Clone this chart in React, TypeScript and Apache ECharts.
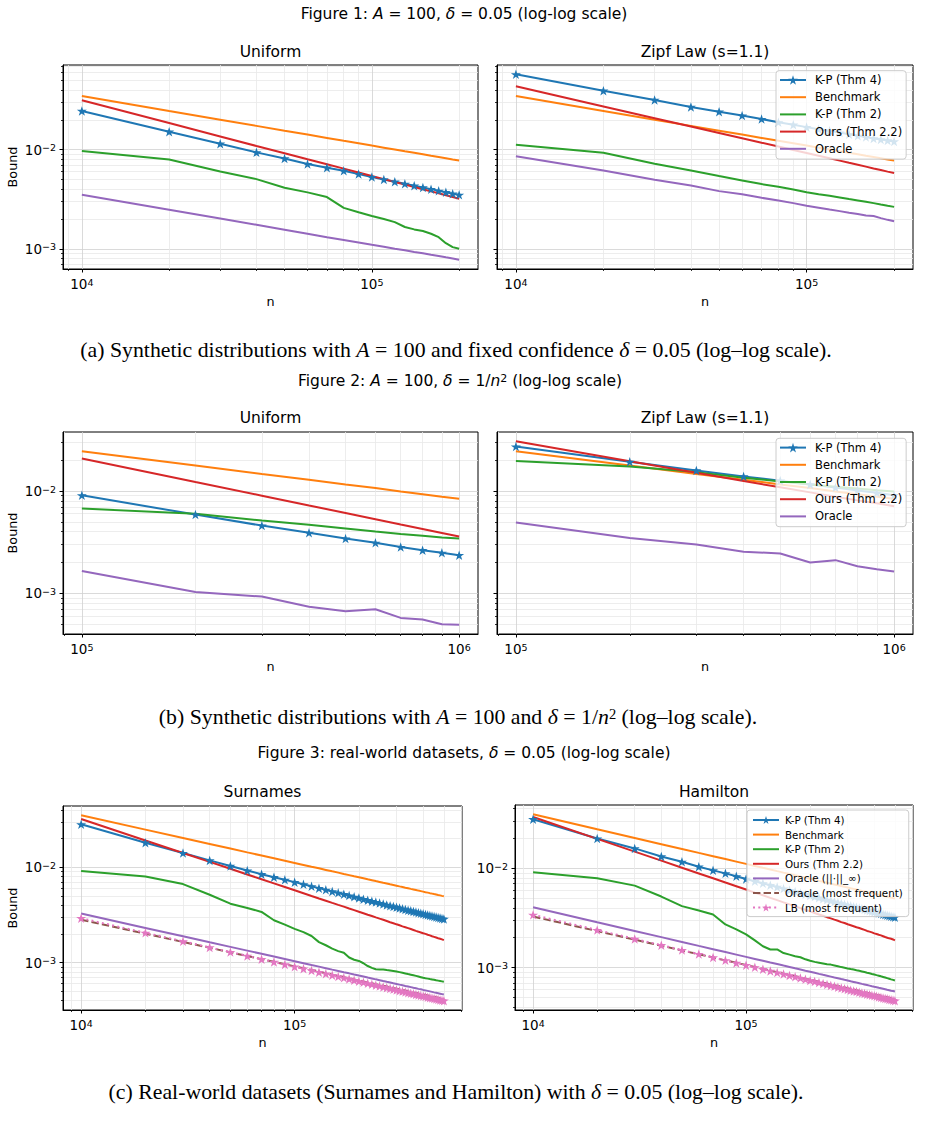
import React, { useEffect, useRef } from 'react';
import * as echarts from 'echarts';

const FONT = 'DejaVu Sans';
const SERIF = 'Liberation Serif';

const C_BLUE = '#1f77b4';
const C_ORANGE = '#ff7f0e';
const C_GREEN = '#2ca02c';
const C_RED = '#d62728';
const C_PURPLE = '#9467bd';
const C_BROWN = '#8c564b';
const C_PINK = '#e377c2';

const L_KP4 = 'K-P (Thm 4)';
const L_BENCH = 'Benchmark';
const L_KP2 = 'K-P (Thm 2)';
const L_OURS = 'Ours (Thm 2.2)';
const L_ORACLE = 'Oracle';
const L_ORACLE_INF = 'Oracle (||·||_∞)';
const L_ORACLE_MF = 'Oracle (most frequent)';
const L_LB = 'LB (most frequent)';

// ---------- Figure 1 (A = 100, delta = 0.05) ----------
const n1 = [10000, 20000, 30000, 40000, 50000, 60000, 70000, 80000, 90000, 100000,
  110000, 120000, 130000, 140000, 150000, 160000, 170000, 180000, 190000, 200000];
const f1Bench = [0.0348, 0.0246, 0.0201, 0.0174, 0.01556, 0.01421, 0.01315, 0.0123, 0.0116, 0.011,
  0.01049, 0.01005, 0.00965, 0.0093, 0.00899, 0.0087, 0.00844, 0.0082, 0.00798, 0.00778];
const f1UniKP4 = [0.0246, 0.0152, 0.0115, 0.0094, 0.00817, 0.00716, 0.00658, 0.00613, 0.00568, 0.0053,
  0.00501, 0.00475, 0.00453, 0.00433, 0.00416, 0.004, 0.00385, 0.00373, 0.0036, 0.00351];
const f1UniKP2 = [0.0097, 0.00798, 0.00604, 0.00505, 0.00413, 0.00371, 0.00333, 0.00259, 0.00234, 0.00214,
  0.002, 0.00186, 0.00166, 0.00157, 0.00151, 0.00142, 0.00131, 0.00114, 0.00104, 0.001];
const f1UniOurs = [0.0315, 0.0186, 0.0136, 0.0109, 0.0092, 0.008, 0.00714, 0.00644, 0.00589, 0.00544,
  0.00505, 0.00473, 0.00445, 0.0042, 0.00399, 0.0038, 0.00363, 0.00347, 0.00333, 0.0032];
const f1UniOracle = [0.00351, 0.00248, 0.00202, 0.00175, 0.00156, 0.00142, 0.00131, 0.00123, 0.00116, 0.0011,
  0.00105, 0.001, 0.000965, 0.00093, 0.0009, 0.00087, 0.000845, 0.00082, 0.000798, 0.000776];
const f1ZipfKP4 = [0.0577, 0.0394, 0.0318, 0.027, 0.0242, 0.0221, 0.0204, 0.0189, 0.0179, 0.0169,
  0.0161, 0.0155, 0.0149, 0.0143, 0.0138, 0.0134, 0.013, 0.0127, 0.0124, 0.0121];
const f1ZipfKP2 = [0.01124, 0.00933, 0.00723, 0.00618, 0.00542, 0.0049, 0.0045, 0.00423, 0.00397, 0.00373,
  0.00356, 0.00343, 0.0033, 0.00318, 0.00308, 0.00298, 0.00289, 0.0028, 0.00272, 0.00265];
const f1ZipfOurs = [0.0436, 0.0273, 0.0208, 0.01714, 0.01476, 0.01305, 0.01176, 0.01076, 0.00994, 0.00926,
  0.00868, 0.00819, 0.00776, 0.00738, 0.00705, 0.00675, 0.00647, 0.00623, 0.00601, 0.00581];
const f1ZipfOracle = [0.00857, 0.00618, 0.00497, 0.00436, 0.00382, 0.00356, 0.00327, 0.00308, 0.00289, 0.00272,
  0.0026, 0.00249, 0.0024, 0.00231, 0.00224, 0.00217, 0.00214, 0.00204, 0.00196, 0.0019];

// ---------- Figure 2 (A = 100, delta = 1/n^2) ----------
const n2 = [100000, 200000, 300000, 400000, 500000, 600000, 700000, 800000, 900000, 1000000];
const f2Bench = [0.0245, 0.0178, 0.0147, 0.0129, 0.0116, 0.0107, 0.0099, 0.0093, 0.0088, 0.0084];
const f2UniKP4 = [0.00908, 0.00588, 0.00459, 0.0039, 0.00343, 0.00312, 0.00283, 0.00264, 0.00249, 0.00236];
const f2UniKP2 = [0.00673, 0.00601, 0.00514, 0.00467, 0.0043, 0.00402, 0.00381, 0.00365, 0.00351, 0.00343];
const f2UniOurs = [0.0208, 0.01225, 0.009, 0.00722, 0.0061, 0.0053, 0.00471, 0.00426, 0.00389, 0.00359];
const f2UniOracle = [0.00165, 0.00103, 0.00093, 0.00074, 0.000668, 0.000698, 0.000575, 0.000554, 0.000499, 0.000492];
const f2ZipfKP4 = [0.0272, 0.0193, 0.0159, 0.0139, 0.0126, 0.0116, 0.0108, 0.0101, 0.0096, 0.0091];
const f2ZipfKP2 = [0.0196, 0.0174, 0.0153, 0.0135, 0.0124, 0.0116, 0.011, 0.0106, 0.0102, 0.0099];
const f2ZipfOurs = [0.0307, 0.0195, 0.0151, 0.0125, 0.0109, 0.0097, 0.0088, 0.0081, 0.0076, 0.0071];
const f2ZipfOracle = [0.00492, 0.00348, 0.003, 0.00255, 0.00245, 0.002, 0.00211, 0.00184, 0.00172, 0.00163];

// ---------- Figure 3 (real-world, delta = 0.05) ----------
const n3 = [10000, 20000, 30000, 40000, 50000, 60000, 70000, 80000, 90000, 100000,
  110000, 120000, 130000, 140000, 150000, 160000, 170000, 180000, 190000, 200000,
  210000, 220000, 230000, 240000, 250000, 260000, 270000, 280000, 290000, 300000,
  310000, 320000, 330000, 340000, 350000, 360000, 370000, 380000, 390000, 400000,
  410000, 420000, 430000, 440000, 450000, 460000, 470000, 480000, 490000, 500000];
const f3Bench = [0.0351, 0.02482, 0.02027, 0.01755, 0.0157, 0.01433, 0.01327, 0.01241, 0.0117, 0.0111,
  0.01058, 0.01013, 0.00974, 0.00938, 0.00906, 0.00878, 0.00851, 0.00827, 0.00805, 0.00785,
  0.00766, 0.00748, 0.00732, 0.00716, 0.00702, 0.00688, 0.00676, 0.00663, 0.00652, 0.00641,
  0.0063, 0.00621, 0.00611, 0.00602, 0.00593, 0.00585, 0.00577, 0.00569, 0.00562, 0.00555,
  0.00548, 0.00542, 0.00535, 0.00529, 0.00523, 0.00518, 0.00512, 0.00507, 0.00501, 0.00496];
const surKP4 = [0.0282, 0.0181, 0.0141, 0.0118, 0.01033, 0.00923, 0.00845, 0.00787, 0.00738, 0.00698,
  0.00662, 0.00631, 0.00604, 0.0058, 0.00558, 0.00539, 0.00521, 0.00505, 0.0049, 0.00476,
  0.00463, 0.00452, 0.00441, 0.00431, 0.00421, 0.00412, 0.00403, 0.00395, 0.00388, 0.00381,
  0.00374, 0.00367, 0.00361, 0.00355, 0.0035, 0.00344, 0.00339, 0.00334, 0.00329, 0.00325,
  0.0032, 0.00316, 0.00312, 0.00308, 0.00304, 0.00301, 0.00297, 0.00294, 0.0029, 0.00287];
const surKP2 = [0.00916, 0.008, 0.00666, 0.00515, 0.00415, 0.00374, 0.0034, 0.00278, 0.0025, 0.00226,
  0.00209, 0.0019, 0.00164, 0.00152, 0.0014, 0.00132, 0.00127, 0.00113, 0.00107, 0.00104,
  0.000984, 0.00092, 0.00088, 0.00085, 0.000848, 0.000845, 0.000835, 0.000826, 0.000816, 0.000806,
  0.000794, 0.000782, 0.00077, 0.000758, 0.000747, 0.000736, 0.000725, 0.000714, 0.000703, 0.000692,
  0.000685, 0.000679, 0.000672, 0.000666, 0.00066, 0.000653, 0.000647, 0.000641, 0.000635, 0.000629];
const surOurs = [0.0321, 0.01911, 0.01411, 0.01138, 0.00963, 0.0084, 0.00749, 0.00678, 0.00621, 0.00574,
  0.00534, 0.005, 0.00471, 0.00446, 0.00423, 0.00403, 0.00386, 0.00369, 0.00355, 0.00341,
  0.00329, 0.00318, 0.00308, 0.00298, 0.00289, 0.00281, 0.00273, 0.00265, 0.00259, 0.00252,
  0.00246, 0.0024, 0.00235, 0.0023, 0.00225, 0.0022, 0.00215, 0.00211, 0.00207, 0.00203,
  0.002, 0.00196, 0.00193, 0.00189, 0.00186, 0.00183, 0.0018, 0.00178, 0.00175, 0.00172];
const surOracleInf = [0.00327, 0.00231, 0.00189, 0.001635, 0.001462, 0.001335, 0.001236, 0.001156, 0.00109, 0.001034,
  0.000986, 0.000944, 0.000907, 0.000874, 0.000844, 0.000818, 0.000793, 0.000771, 0.00075, 0.000731,
  0.000714, 0.000697, 0.000682, 0.000667, 0.000654, 0.000641, 0.000629, 0.000618, 0.000607, 0.000597,
  0.000587, 0.000578, 0.000569, 0.000561, 0.000553, 0.000545, 0.000538, 0.00053, 0.000524, 0.000517,
  0.000511, 0.000505, 0.000499, 0.000493, 0.000487, 0.000482, 0.000477, 0.000472, 0.000467, 0.000462];
const surOracleMF = [0.00282, 0.00201, 0.001646, 0.00143, 0.001281, 0.001172, 0.001087, 0.001018, 0.000961, 0.000912,
  0.000871, 0.000834, 0.000803, 0.000774, 0.000748, 0.000725, 0.000704, 0.000684, 0.000666, 0.00065,
  0.000634, 0.00062, 0.000607, 0.000594, 0.000583, 0.000571, 0.000561, 0.000551, 0.000542, 0.000533,
  0.000524, 0.000516, 0.000509, 0.000501, 0.000494, 0.000487, 0.000481, 0.000474, 0.000468, 0.000463,
  0.000457, 0.000452, 0.000447, 0.000442, 0.000437, 0.000433, 0.000428, 0.000424, 0.00042, 0.000416];
const surLB = [0.00292, 0.002053, 0.001671, 0.001444, 0.001289, 0.001175, 0.001087, 0.001015, 0.000956, 0.000906,
  0.000864, 0.000826, 0.000794, 0.000764, 0.000738, 0.000714, 0.000692, 0.000673, 0.000654, 0.000637,
  0.000621, 0.000606, 0.000592, 0.000579, 0.000567, 0.000555, 0.000545, 0.000535, 0.000525, 0.000516,
  0.000507, 0.000499, 0.000491, 0.000484, 0.000476, 0.00047, 0.000463, 0.000457, 0.000451, 0.000445,
  0.00044, 0.000434, 0.000429, 0.000424, 0.000419, 0.000415, 0.00041, 0.000406, 0.000402, 0.000398];
const hamKP4 = [0.0313, 0.02, 0.0159, 0.0132, 0.01166, 0.0104, 0.00955, 0.00891, 0.00832, 0.00782,
  0.00742, 0.00707, 0.00677, 0.00649, 0.00625, 0.00603, 0.00583, 0.00565, 0.00549, 0.00533,
  0.00519, 0.00506, 0.00494, 0.00482, 0.00472, 0.00461, 0.00452, 0.00443, 0.00434, 0.00426,
  0.00419, 0.00411, 0.00405, 0.00398, 0.00392, 0.00386, 0.0038, 0.00374, 0.00369, 0.00364,
  0.00359, 0.00354, 0.0035, 0.00345, 0.00341, 0.00337, 0.00333, 0.00329, 0.00325, 0.00322];
const hamKP2 = [0.00912, 0.00794, 0.0067, 0.0052, 0.00416, 0.00376, 0.00343, 0.00272, 0.00243, 0.00216,
  0.00188, 0.00164, 0.00152, 0.00152, 0.0014, 0.00135, 0.0013, 0.00127, 0.00121, 0.00117,
  0.00114, 0.00112, 0.0011, 0.00108, 0.00107, 0.00105, 0.00103, 0.00101, 0.000995, 0.00098,
  0.000966, 0.000953, 0.000939, 0.000926, 0.000913, 0.0009, 0.000887, 0.000875, 0.000862, 0.00085,
  0.000838, 0.000827, 0.000815, 0.000804, 0.000793, 0.000782, 0.000771, 0.00076, 0.00075, 0.00074];
const hamOurs = [0.033, 0.01986, 0.01476, 0.01196, 0.01016, 0.00889, 0.00794, 0.0072, 0.00661, 0.00612,
  0.0057, 0.00535, 0.00504, 0.00478, 0.00454, 0.00433, 0.00415, 0.00397, 0.00382, 0.00368,
  0.00355, 0.00343, 0.00333, 0.00322, 0.00313, 0.00304, 0.00296, 0.00287, 0.00281, 0.00273,
  0.00267, 0.00261, 0.00255, 0.0025, 0.00245, 0.0024, 0.00234, 0.0023, 0.00226, 0.00221,
  0.00218, 0.00214, 0.00211, 0.00207, 0.00203, 0.002, 0.00197, 0.00195, 0.00192, 0.00188];
const hamOracleInf = [0.00405, 0.00286, 0.002338, 0.002025, 0.001811, 0.001653, 0.001531, 0.001432, 0.00135, 0.001281,
  0.001221, 0.001169, 0.001123, 0.001083, 0.001046, 0.001013, 0.000982, 0.000955, 0.000929, 0.000906,
  0.000884, 0.000863, 0.000844, 0.000827, 0.00081, 0.000794, 0.00078, 0.000765, 0.000752, 0.00074,
  0.000727, 0.000716, 0.000705, 0.000695, 0.000684, 0.000675, 0.000666, 0.000657, 0.000648, 0.00064,
  0.000633, 0.000625, 0.000618, 0.000611, 0.000604, 0.000597, 0.000591, 0.000584, 0.000579, 0.000573];
const hamOracleMF = [0.00327, 0.002332, 0.001909, 0.001659, 0.001486, 0.00136, 0.001261, 0.001181, 0.001115, 0.001058,
  0.00101, 0.000967, 0.000931, 0.000898, 0.000868, 0.000841, 0.000817, 0.000793, 0.000773, 0.000754,
  0.000735, 0.000719, 0.000704, 0.000689, 0.000676, 0.000662, 0.000651, 0.000639, 0.000629, 0.000618,
  0.000608, 0.000599, 0.00059, 0.000581, 0.000573, 0.000565, 0.000558, 0.00055, 0.000543, 0.000537,
  0.00053, 0.000524, 0.000519, 0.000513, 0.000507, 0.000502, 0.000496, 0.000492, 0.000487, 0.000483];
const hamLB = [0.0034, 0.00239, 0.001945, 0.001681, 0.0015, 0.001368, 0.001265, 0.001181, 0.001113, 0.001055,
  0.001006, 0.000961, 0.000924, 0.000889, 0.000859, 0.000831, 0.000805, 0.000783, 0.000761, 0.000741,
  0.000723, 0.000705, 0.000689, 0.000674, 0.00066, 0.000646, 0.000634, 0.000623, 0.000611, 0.000601,
  0.00059, 0.000581, 0.000572, 0.000563, 0.000554, 0.000547, 0.000539, 0.000532, 0.000525, 0.000518,
  0.000512, 0.000505, 0.000499, 0.000494, 0.000488, 0.000483, 0.000477, 0.000473, 0.000468, 0.000463];

const STAR = 'path://M50,0L61.2,34.5L97.6,34.5L68.2,55.9L79.4,90.5L50,69.1L20.6,90.5L31.8,55.9L2.4,34.5L38.8,34.5Z';

type Kind = 'kp4' | 'bench' | 'kp2' | 'ours' | 'oracle' | 'mf' | 'lb';
type Spec = { name: string; xs: number[]; ys: number[]; kind: Kind };

const STYLE: Record<Kind, { color: string; star: boolean; dash: any }> = {
  kp4: { color: C_BLUE, star: true, dash: 'solid' },
  bench: { color: C_ORANGE, star: false, dash: 'solid' },
  kp2: { color: C_GREEN, star: false, dash: 'solid' },
  ours: { color: C_RED, star: false, dash: 'solid' },
  oracle: { color: C_PURPLE, star: false, dash: 'solid' },
  mf: { color: C_BROWN, star: false, dash: [7.4, 3.2] },
  lb: { color: C_PINK, star: true, dash: [2, 3.3] },
};
const STAR_NAMES = [L_KP4, L_LB];

const padLog = (arrs: number[][]): [number, number] => {
  const ls: number[] = [];
  arrs.forEach(a => a.forEach(v => ls.push(Math.log10(v))));
  const lo = Math.min(...ls);
  const hi = Math.max(...ls);
  const p = (hi - lo) * 0.05;
  return [Math.pow(10, lo - p), Math.pow(10, hi + p)];
};

const decadeTicks = (lo: number, hi: number) => {
  const majors: number[] = [];
  const minors: number[] = [];
  for (let e = Math.floor(Math.log10(lo)); e <= Math.ceil(Math.log10(hi)); e++) {
    for (let m = 1; m <= 9; m++) {
      const v = parseFloat((m * Math.pow(10, e)).toPrecision(6));
      if (v >= lo && v <= hi) (m === 1 ? majors : minors).push(v);
    }
  }
  return { majors, minors };
};

const supLabel = (v: number) => {
  const e = Math.round(Math.log10(v));
  const s = e < 0 ? '\u2212' + -e : String(e);
  return `{b|10}{s|${s}}`;
};

const TICK_FS = 13.5;
const tickRich = {
  b: { fontFamily: FONT, fontSize: TICK_FS, color: '#000' },
  s: { fontFamily: FONT, fontSize: 9.5, color: '#000', lineHeight: 5, verticalAlign: 'top' },
};

type Panel = {
  grid: { left: number; top: number; width: number; height: number };
  xs: number[];
  yr: [number, number];
  yLabels: boolean;
  yName: boolean;
  series: Spec[];
};

const mk = (name: string, xs: number[], ys: number[], kind: Kind): Spec => ({ name, xs, ys, kind });

function buildOption() {
  const f1y = padLog([f1Bench, f1UniKP4, f1UniKP2, f1UniOurs, f1UniOracle, f1ZipfKP4, f1ZipfKP2, f1ZipfOurs, f1ZipfOracle]);
  const f2y = padLog([f2Bench, f2UniKP4, f2UniKP2, f2UniOurs, f2UniOracle, f2ZipfKP4, f2ZipfKP2, f2ZipfOurs, f2ZipfOracle]);

  const panels: Panel[] = [
    {
      grid: { left: 63, top: 65, width: 415, height: 204 }, xs: n1, yr: f1y, yLabels: true, yName: true,
      series: [mk(L_KP4, n1, f1UniKP4, 'kp4'), mk(L_BENCH, n1, f1Bench, 'bench'), mk(L_KP2, n1, f1UniKP2, 'kp2'),
        mk(L_OURS, n1, f1UniOurs, 'ours'), mk(L_ORACLE, n1, f1UniOracle, 'oracle')],
    },
    {
      grid: { left: 497, top: 65, width: 416, height: 204 }, xs: n1, yr: f1y, yLabels: false, yName: false,
      series: [mk(L_KP4, n1, f1ZipfKP4, 'kp4'), mk(L_BENCH, n1, f1Bench, 'bench'), mk(L_KP2, n1, f1ZipfKP2, 'kp2'),
        mk(L_OURS, n1, f1ZipfOurs, 'ours'), mk(L_ORACLE, n1, f1ZipfOracle, 'oracle')],
    },
    {
      grid: { left: 63, top: 432, width: 415, height: 202 }, xs: n2, yr: f2y, yLabels: true, yName: true,
      series: [mk(L_KP4, n2, f2UniKP4, 'kp4'), mk(L_BENCH, n2, f2Bench, 'bench'), mk(L_KP2, n2, f2UniKP2, 'kp2'),
        mk(L_OURS, n2, f2UniOurs, 'ours'), mk(L_ORACLE, n2, f2UniOracle, 'oracle')],
    },
    {
      grid: { left: 497, top: 432, width: 416, height: 202 }, xs: n2, yr: f2y, yLabels: false, yName: false,
      series: [mk(L_KP4, n2, f2ZipfKP4, 'kp4'), mk(L_BENCH, n2, f2Bench, 'bench'), mk(L_KP2, n2, f2ZipfKP2, 'kp2'),
        mk(L_OURS, n2, f2ZipfOurs, 'ours'), mk(L_ORACLE, n2, f2ZipfOracle, 'oracle')],
    },
    {
      grid: { left: 63, top: 806, width: 399, height: 204 }, xs: n3,
      yr: padLog([f3Bench, surKP4, surKP2, surOurs, surOracleInf, surOracleMF, surLB]), yLabels: true, yName: true,
      series: [mk(L_KP4, n3, surKP4, 'kp4'), mk(L_BENCH, n3, f3Bench, 'bench'), mk(L_KP2, n3, surKP2, 'kp2'),
        mk(L_OURS, n3, surOurs, 'ours'), mk(L_ORACLE_INF, n3, surOracleInf, 'oracle'),
        mk(L_ORACLE_MF, n3, surOracleMF, 'mf'), mk(L_LB, n3, surLB, 'lb')],
    },
    {
      grid: { left: 515, top: 805, width: 398, height: 205 }, xs: n3,
      yr: padLog([f3Bench, hamKP4, hamKP2, hamOurs, hamOracleInf, hamOracleMF, hamLB]), yLabels: true, yName: false,
      series: [mk(L_KP4, n3, hamKP4, 'kp4'), mk(L_BENCH, n3, f3Bench, 'bench'), mk(L_KP2, n3, hamKP2, 'kp2'),
        mk(L_OURS, n3, hamOurs, 'ours'), mk(L_ORACLE_INF, n3, hamOracleInf, 'oracle'),
        mk(L_ORACLE_MF, n3, hamOracleMF, 'mf'), mk(L_LB, n3, hamLB, 'lb')],
    },
  ];

  const grid: any[] = [];
  const xAxis: any[] = [];
  const yAxis: any[] = [];
  const series: any[] = [];
  const nameStyle = { fontFamily: FONT, fontSize: 12.8, color: '#000' };
  const MAJOR_GRID = '#d0d0d0';
  const MINOR_GRID = '#e8e8e8';

  panels.forEach((p, gi) => {
    grid.push({ ...p.grid, show: true, borderColor: '#000', borderWidth: 1, backgroundColor: 'transparent', containLabel: false });
    const xr = padLog([p.xs]);
    const xt = decadeTicks(xr[0], xr[1]);
    const yt = decadeTicks(p.yr[0], p.yr[1]);
    xAxis.push({
      type: 'log', gridIndex: gi, position: 'bottom', min: xr[0], max: xr[1],
      axisLine: { show: true, onZero: false, lineStyle: { color: '#000', width: 1 } },
      axisTick: { show: true, length: 3.5, customValues: xt.majors, lineStyle: { color: '#000', width: 1 } },
      axisLabel: { show: true, customValues: xt.majors, formatter: supLabel, margin: 8, rich: tickRich },
      splitLine: { show: true, lineStyle: { color: MAJOR_GRID, width: 0.8 } },
      minorTick: { show: false }, minorSplitLine: { show: false },
      name: 'n', nameLocation: 'middle', nameGap: 26, nameTextStyle: nameStyle,
    });
    xAxis.push({
      type: 'log', gridIndex: gi, position: 'bottom', min: xr[0], max: xr[1],
      axisLine: { show: false },
      axisTick: { show: true, length: 2, customValues: xt.minors, lineStyle: { color: '#000', width: 0.8 } },
      axisLabel: { show: false },
      splitLine: { show: true, lineStyle: { color: MINOR_GRID, width: 0.8 } },
    });
    yAxis.push({
      type: 'log', gridIndex: gi, position: 'left', min: p.yr[0], max: p.yr[1],
      axisLine: { show: true, onZero: false, lineStyle: { color: '#000', width: 1 } },
      axisTick: { show: true, length: 3.5, customValues: yt.majors, lineStyle: { color: '#000', width: 1 } },
      axisLabel: { show: p.yLabels, customValues: yt.majors, formatter: supLabel, margin: 7, rich: tickRich },
      splitLine: { show: true, lineStyle: { color: MAJOR_GRID, width: 0.8 } },
      name: p.yName ? 'Bound' : '', nameLocation: 'middle', nameGap: 44, nameRotate: 90, nameTextStyle: nameStyle,
    });
    yAxis.push({
      type: 'log', gridIndex: gi, position: 'left', min: p.yr[0], max: p.yr[1],
      axisLine: { show: false },
      axisTick: { show: true, length: 2, customValues: yt.minors, lineStyle: { color: '#000', width: 0.8 } },
      axisLabel: { show: false },
      splitLine: { show: true, lineStyle: { color: MINOR_GRID, width: 0.8 } },
    });
    p.series.forEach((s) => {
      const st = STYLE[s.kind];
      series.push({
        type: 'line', name: s.name, xAxisIndex: 2 * gi, yAxisIndex: 2 * gi,
        data: s.xs.map((x, i) => [x, s.ys[i]]),
        symbol: st.star ? STAR : 'none', symbolSize: 10, symbolKeepAspect: true, showSymbol: st.star,
        itemStyle: { color: st.color },
        lineStyle: { color: st.color, width: 2, type: st.dash },
        emphasis: { disabled: true }, silent: true, animation: false,
      });
    });
  });

  const legendBase = {
    orient: 'vertical', selectedMode: false,
    backgroundColor: 'rgba(255,255,255,0.8)', borderColor: '#cccccc', borderWidth: 1, borderRadius: 3,
    itemWidth: 26,
  };
  const legendData = (names: string[]) =>
    names.map(n => (STAR_NAMES.includes(n) ? { name: n } : { name: n, itemStyle: { opacity: 0 } }));
  const names12 = [L_KP4, L_BENCH, L_KP2, L_OURS, L_ORACLE];
  const names3 = [L_KP4, L_BENCH, L_KP2, L_OURS, L_ORACLE_INF, L_ORACLE_MF, L_LB];
  const legend = [
    { ...legendBase, data: legendData(names12), left: 776, top: 70.7, itemHeight: 12, itemGap: 3.2, padding: [2.3, 4, 3.3, 3],
      textStyle: { fontFamily: FONT, fontSize: 11.5, color: '#000', lineHeight: 14, padding: [0, 0, 0, 4] } },
    { ...legendBase, data: legendData(names12), left: 776, top: 438.3, itemHeight: 12, itemGap: 3.2, padding: [2.3, 4, 3.3, 3],
      textStyle: { fontFamily: FONT, fontSize: 11.5, color: '#000', lineHeight: 14, padding: [0, 0, 0, 4] } },
    { ...legendBase, data: legendData(names3), left: 747, top: 810, itemHeight: 10, itemGap: 2.6, padding: [4, 6, 3, 5],
      textStyle: { fontFamily: FONT, fontSize: 10.3, color: '#000', lineHeight: 12, padding: [0, 0, 0, 1] } },
  ];

  const TITLE_FS = 15.5;
  const sansRich = {
    t: { fontFamily: FONT, fontSize: TITLE_FS, fill: '#000' },
    i: { fontFamily: FONT, fontSize: TITLE_FS, fontStyle: 'italic', fill: '#000' },
    s: { fontFamily: FONT, fontSize: 11, fill: '#000', lineHeight: 6, verticalAlign: 'top' },
  };
  const CAP_FS = 21.8;
  const serifRich = {
    t: { fontFamily: SERIF, fontSize: CAP_FS, fill: '#000' },
    i: { fontFamily: SERIF, fontSize: CAP_FS, fontStyle: 'italic', fill: '#000' },
    s: { fontFamily: SERIF, fontSize: 14.5, fill: '#000', lineHeight: 7, verticalAlign: 'top' },
  };
  const txt = (x: number, y: number, text: string, rich: any) => ({
    type: 'text', x, y, silent: true,
    style: { text, rich, align: 'center', verticalAlign: 'middle', fontFamily: FONT, fontSize: 14, fill: '#000' },
  });
  const plain = (x: number, y: number, text: string) => txt(x, y, `{t|${text}}`, sansRich);

  const graphic = [
    txt(464, 14, '{t|Figure 1: }{i|A}{t| = 100, }{i|δ}{t| = 0.05 (log-log scale)}', sansRich),
    plain(270.5, 52, 'Uniform'),
    plain(705, 52, 'Zipf Law (s=1.1)'),
    txt(456, 350, '{t|(a) Synthetic distributions with }{i|A}{t| = 100 and fixed confidence }{i|δ}{t| = 0.05 (log–log scale).}', serifRich),
    txt(460, 381, '{t|Figure 2: }{i|A}{t| = 100, }{i|δ}{t| = 1/}{i|n}{s|2}{t| (log-log scale)}', sansRich),
    plain(270.5, 418, 'Uniform'),
    plain(705, 418, 'Zipf Law (s=1.1)'),
    txt(458, 717, '{t|(b) Synthetic distributions with }{i|A}{t| = 100 and }{i|δ}{t| = 1/}{i|n}{s|2}{t| (log–log scale).}', serifRich),
    txt(464, 753, '{t|Figure 3: real-world datasets, }{i|δ}{t| = 0.05 (log-log scale)}', sansRich),
    plain(262.5, 792, 'Surnames'),
    plain(714, 792, 'Hamilton'),
    txt(456, 1092, '{t|(c) Real-world datasets (Surnames and Hamilton) with }{i|δ}{t| = 0.05 (log–log scale).}', serifRich),
  ];

  return {
    animation: false,
    backgroundColor: '#ffffff',
    textStyle: { fontFamily: FONT },
    grid, xAxis, yAxis, series, legend, graphic,
  };
}

export default function App() {
  const ref = useRef<HTMLDivElement>(null);
  useEffect(() => {
    document.body.style.margin = '0';
    const chart = echarts.init(ref.current!, null, { renderer: 'svg' });
    chart.setOption(buildOption() as any);
    return () => chart.dispose();
  }, []);
  return <div ref={ref} style={{ position: 'absolute', left: 0, top: 0, width: 929, height: 1128, background: '#fff' }} />;
}
